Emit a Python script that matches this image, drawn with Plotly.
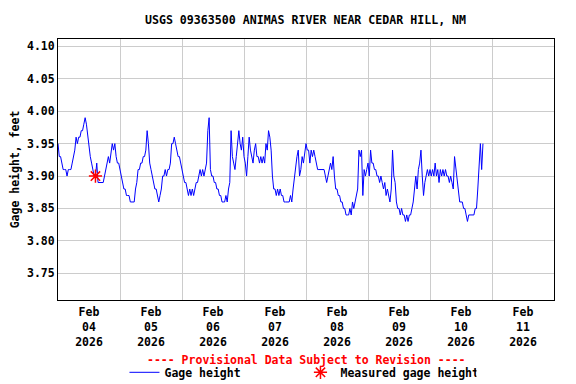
import pandas as pd
import plotly.graph_objects as go

# Gage height readings, 30-minute steps starting 2026-02-04 00:00
feb04 = [3.95,3.93,3.93,3.92,3.91,3.91,3.91,3.90,3.91,3.91,3.91,3.92,3.93,3.94,3.96,3.95,3.96,3.96,3.97,3.97,3.98,3.99,3.98,3.96,
         3.95,3.93,3.92,3.91,3.90,3.90,3.92,3.89,3.89,3.89,3.89,3.89,3.90,3.91,3.92,3.93,3.92,3.94,3.95,3.94,3.95,3.93,3.92,3.92]
feb05 = [3.91,3.90,3.89,3.88,3.88,3.87,3.87,3.87,3.86,3.86,3.86,3.86,3.88,3.89,3.91,3.91,3.92,3.92,3.93,3.93,3.94,3.97,3.95,3.92,
         3.91,3.90,3.89,3.88,3.88,3.87,3.86,3.87,3.88,3.90,3.90,3.91,3.90,3.91,3.91,3.92,3.95,3.95,3.96,3.95,3.94,3.93,3.93,3.92]
feb06 = [3.91,3.90,3.89,3.89,3.88,3.87,3.88,3.87,3.88,3.87,3.88,3.89,3.89,3.90,3.91,3.90,3.91,3.90,3.91,3.92,3.97,3.99,3.91,3.90,
         3.90,3.89,3.89,3.88,3.88,3.87,3.87,3.86,3.86,3.86,3.87,3.86,3.88,3.89,3.97,3.93,3.92,3.91,3.93,3.95,3.97,3.95,3.94,3.96]
feb07 = [3.93,3.92,3.90,3.93,3.96,3.94,3.93,3.92,3.94,3.95,3.93,3.93,3.92,3.93,3.92,3.93,3.92,3.95,3.94,3.97,3.96,3.94,3.90,3.88,
         3.88,3.87,3.88,3.87,3.88,3.87,3.87,3.86,3.86,3.86,3.86,3.86,3.87,3.86,3.88,3.90,3.92,3.93,3.94,3.90,3.91,3.93,3.92,3.94]
feb08 = [3.95,3.94,3.94,3.92,3.94,3.93,3.94,3.93,3.92,3.91,3.91,3.91,3.91,3.91,3.91,3.90,3.89,3.90,3.91,3.92,3.91,3.93,3.90,3.88,
         3.88,3.87,3.87,3.86,3.86,3.85,3.85,3.84,3.84,3.84,3.85,3.84,3.86,3.85,3.86,3.87,3.88,3.94,3.93,3.94,3.87,3.91,3.90,3.91]
feb09 = [3.92,3.90,3.94,3.92,3.92,3.91,3.91,3.90,3.90,3.89,3.90,3.89,3.88,3.89,3.87,3.88,3.87,3.86,3.88,3.94,3.90,3.89,3.86,3.85,
         3.85,3.84,3.85,3.84,3.84,3.83,3.84,3.83,3.84,3.84,3.85,3.86,3.88,3.90,3.88,3.91,3.92,3.94,3.90,3.87,3.89,3.90,3.91,3.90]
feb10 = [3.91,3.90,3.91,3.90,3.92,3.90,3.91,3.89,3.91,3.90,3.91,3.90,3.91,3.90,3.90,3.89,3.90,3.89,3.88,3.93,3.91,3.90,3.87,3.86,
         3.86,3.86,3.85,3.85,3.84,3.83,3.84,3.84,3.84,3.84,3.84,3.85,3.85,3.88,3.92,3.95,3.91,3.95]

gage_values = feb04 + feb05 + feb06 + feb07 + feb08 + feb09 + feb10
gage_times = pd.date_range("2026-02-04 00:00", periods=len(gage_values), freq="30min")

measured_times = ["2026-02-04 14:30"]
measured_values = [3.90]

day_labels = ["Feb<br>04<br>2026", "Feb<br>05<br>2026", "Feb<br>06<br>2026", "Feb<br>07<br>2026",
              "Feb<br>08<br>2026", "Feb<br>09<br>2026", "Feb<br>10<br>2026", "Feb<br>11<br>2026"]
day_label_pos = pd.date_range("2026-02-04 12:00", periods=8, freq="D")
y_ticks = [3.75, 3.80, 3.85, 3.90, 3.95, 4.00, 4.05, 4.10]

FONT = "DejaVu Sans Mono"

fig = go.Figure()
fig.add_trace(go.Scatter(x=gage_times, y=gage_values, mode="lines", name="Gage height",
                         line=dict(color="#0000ff", width=1)))
fig.add_trace(go.Scatter(x=measured_times, y=measured_values, mode="markers", name="Measured gage height",
                         marker=dict(symbol="asterisk-open", size=11, color="#ff0000",
                                     line=dict(color="#ff0000", width=1.5))))

# page body has an 8px margin, so the figure is 8px smaller than the window
fig.update_layout(
    width=568, height=376,
    margin=dict(l=50, r=22, t=31, b=84, autoexpand=False),
    paper_bgcolor="white", plot_bgcolor="white",
    font=dict(family=FONT, size=11.5, color="black", weight="bold"),
    title=dict(text="USGS 09363500 ANIMAS RIVER NEAR CEDAR HILL, NM", x=0.5238, xanchor="center",
               y=0.969, yanchor="middle", font=dict(family=FONT, size=11.6, weight="bold")),
    showlegend=True,
    legend=dict(orientation="h", x=0.134, xanchor="left", y=-0.277, yanchor="middle",
                entrywidth=131, entrywidthmode="pixels", bgcolor="rgba(0,0,0,0)",
                font=dict(family=FONT, size=11.5, weight="bold"), itemwidth=30,
                tracegroupgap=0),
    annotations=[dict(text="---- Provisional Data Subject to Revision ----", xref="paper", yref="paper",
                      x=0.5, y=-0.228, xanchor="center", yanchor="middle", showarrow=False,
                      font=dict(family=FONT, size=11.5, color="#ff0000", weight="bold"))],
)

fig.update_xaxes(
    range=["2026-02-04 00:00", "2026-02-12 00:00"],
    tickmode="array", tickvals=day_label_pos, ticktext=day_labels, ticks="",
    showgrid=False, showline=True, linecolor="black", linewidth=1, mirror=True,
    tickfont=dict(family=FONT, size=11.5, weight="bold"), ticklabelstandoff=1,
    minor=dict(tick0="2026-02-04 00:00", dtick=86400000, showgrid=True, gridcolor="#cccccc",
               gridwidth=1, ticks=""),
    zeroline=False, automargin=False,
)
fig.update_yaxes(
    range=[3.7088, 4.1114],
    tickmode="array", tickvals=y_ticks, tickformat=".2f", ticks="",
    showgrid=True, gridcolor="#cccccc", gridwidth=1,
    showline=True, linecolor="black", linewidth=1, mirror=True, zeroline=False,
    title=dict(text="Gage height, feet", font=dict(family=FONT, size=11.5, weight="bold"), standoff=6),
    tickfont=dict(family=FONT, size=11.5, weight="bold"),
    automargin=False,
)

fig.write_html("out.html")
